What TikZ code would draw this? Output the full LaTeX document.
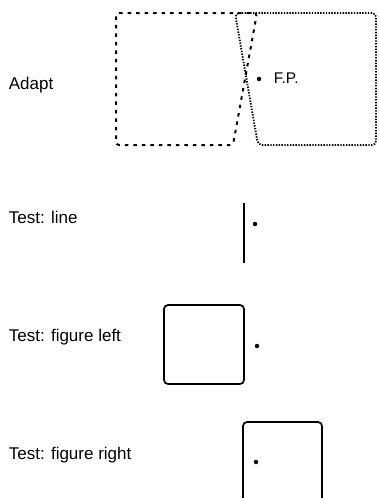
\documentclass[tikz,border=0pt]{standalone}
\usepackage{fontspec}
\setmainfont{Liberation Sans}
\begin{document}
\begin{tikzpicture}[x=1pt,y=-1pt,line width=1.7pt,
    rowtext/.style={anchor=west,inner sep=0pt,font=\fontsize{17}{20}\selectfont},
    fix/.style={circle,fill,inner sep=0pt,minimum size=4.5pt},
    oldfig/.style={dash pattern=on 3.5pt off 5pt,line width=2pt,rounded corners=3pt},
    newfig/.style={dash pattern=on 1.4pt off 1.4pt,line width=1.8pt,rounded corners=4pt},
    testfig/.style={rounded corners=4pt}]
    \useasboundingbox (0,0) rectangle (378,498);
        % Row labels
        \foreach \i/\y/\t in {a/85/Adapt, b/217/Test: line, c/337/Test: figure left, d/455/Test: figure right} {
            \node[rowtext] (lbl\i) at (8,\y) {\t};
        }

        % Adapt
        \draw[oldfig] (116,13) -- (257,13) -- (233,145) -- (116,145) -- cycle;
        \draw[newfig] (235,13) -- (376,13) -- (376,145) -- (258,145) -- cycle;
        \node[fix] (fpa) at (259,79) {};
        \node[rowtext,font=\fontsize{15.5}{18}\selectfont] (fp) at (273,78) {F.P.};

        % Test: line
        \draw (244,203) -- (244,263);
        \node[fix] (fpb) at (255,224) {};

        % Test: figure left
        \draw[testfig] (164,305) rectangle (244,384);
        \node[fix] (fpc) at (257,346) {};

        % Test: figure right
        \draw[testfig] (243,505) -- (243,422) -- (322,422) -- (322,505);
        \node[fix] (fpd) at (256,462) {};
\end{tikzpicture}
\end{document}
